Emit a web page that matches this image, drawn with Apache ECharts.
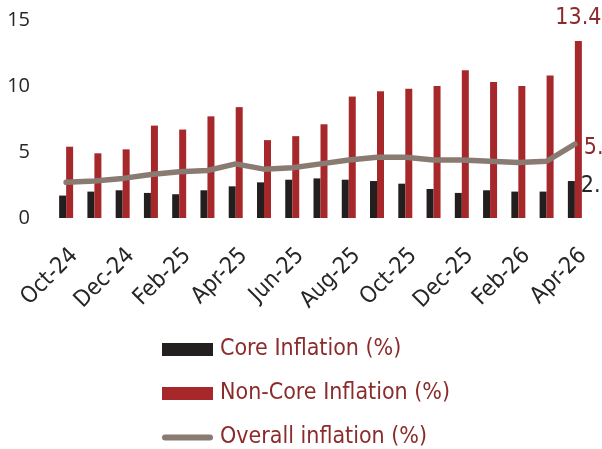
<!DOCTYPE html>
<html>
<head>
<meta charset="utf-8">
<script src="https://cdn.jsdelivr.net/npm/echarts@6/dist/echarts.min.js"></script>
<style>
html,body{margin:0;padding:0;background:#fff;}
#chart{width:602px;height:449px;}
</style>
</head>
<body>
<div id="chart"></div>
<script>
const categories = ["Oct-24","Nov-24","Dec-24","Jan-25","Feb-25","Mar-25","Apr-25","May-25","Jun-25","Jul-25","Aug-25","Sep-25","Oct-25","Nov-25","Dec-25","Jan-26","Feb-26","Mar-26","Apr-26"];
const coreInflation = [1.7,2.0,2.1,1.9,1.8,2.1,2.4,2.7,2.9,3.0,2.9,2.8,2.6,2.2,1.9,2.1,2.0,2.0,2.8];
const nonCoreInflation = [5.4,4.9,5.2,7.0,6.7,7.7,8.4,5.9,6.2,7.1,9.2,9.6,9.8,10.0,11.2,10.3,10.0,10.8,13.4];
const overallInflation = [2.7,2.8,3.0,3.3,3.5,3.6,4.1,3.7,3.8,4.1,4.4,4.6,4.6,4.4,4.4,4.3,4.2,4.3,5.6];
const yTicks = [0,5,10,15];

const FONT = '"DejaVu Sans Condensed", "Liberation Sans Narrow", "DejaVu Sans", sans-serif';
const RED = '#A6282A', BLACK = '#231F1F', GREY = '#8A7B72', TXT = '#8B2B2B';

function lastLabeled(arr, extra) {
  return arr.map((v, i) => i === arr.length - 1 ? Object.assign({ value: v }, extra) : v);
}

const chart = echarts.init(document.getElementById('chart'), null, { renderer: 'canvas' });
chart.setOption({
  animation: false,
  backgroundColor: '#fff',
  grid: { left: 52, right: 13, top: 20, bottom: 231, containLabel: false },
  legend: {
    orient: 'vertical', left: 162, top: 338, height: 111, padding: 0,
    itemWidth: 51, itemHeight: 13, itemGap: 21,
    textStyle: { fontFamily: FONT, fontSize: 23, color: TXT, padding: [0, 0, 0, 2] },
    data: [
      { name: 'Core Inflation (%)', icon: 'rect' },
      { name: 'Non-Core Inflation (%)', icon: 'rect' },
      { name: 'Overall inflation (%)', icon: 'path://M3,0 H48 A3,3 0 0 1 48,6 H3 A3,3 0 0 1 3,0 Z', itemStyle: { color: GREY } }
    ]
  },
  xAxis: {
    type: 'category', data: categories, boundaryGap: true,
    axisLine: { show: false }, axisTick: { show: false }, splitLine: { show: false },
    axisLabel: {
      interval: 1, rotate: 45, margin: 26, verticalAlign: 'top',
      fontFamily: FONT, fontSize: 23, color: '#262626'
    }
  },
  yAxis: {
    type: 'value', min: yTicks[0], max: yTicks[yTicks.length - 1], interval: 5,
    axisLine: { show: false }, axisTick: { show: false }, splitLine: { show: false },
    axisLabel: { margin: 22, fontFamily: '"Open Sans", sans-serif', fontSize: 20, color: '#262626' }
  },
  series: [
    {
      name: 'Core Inflation (%)', type: 'bar', barWidth: 7, barGap: '0%',
      itemStyle: { color: BLACK },
      data: lastLabeled(coreInflation, { label: { show: true, position: [13, 5], align: 'left', verticalAlign: 'middle', fontFamily: FONT, fontSize: 23, color: '#262626' } })
    },
    {
      name: 'Non-Core Inflation (%)', type: 'bar', barWidth: 7, barGap: '0%',
      itemStyle: { color: RED },
      data: lastLabeled(nonCoreInflation, { label: { show: true, position: 'top', distance: 12, fontFamily: FONT, fontSize: 23, color: TXT } })
    },
    {
      name: 'Overall inflation (%)', type: 'line', symbol: 'none', showSymbol: true,
      lineStyle: { color: GREY, width: 5.5, cap: 'round', join: 'round' },
      itemStyle: { color: GREY },
      data: lastLabeled(overallInflation, { symbol: 'circle', symbolSize: 0, label: { show: true, position: 'right', distance: 9, offset: [0, 4], fontFamily: FONT, fontSize: 23, color: TXT } })
    }
  ]
});
</script>
</body>
</html>
